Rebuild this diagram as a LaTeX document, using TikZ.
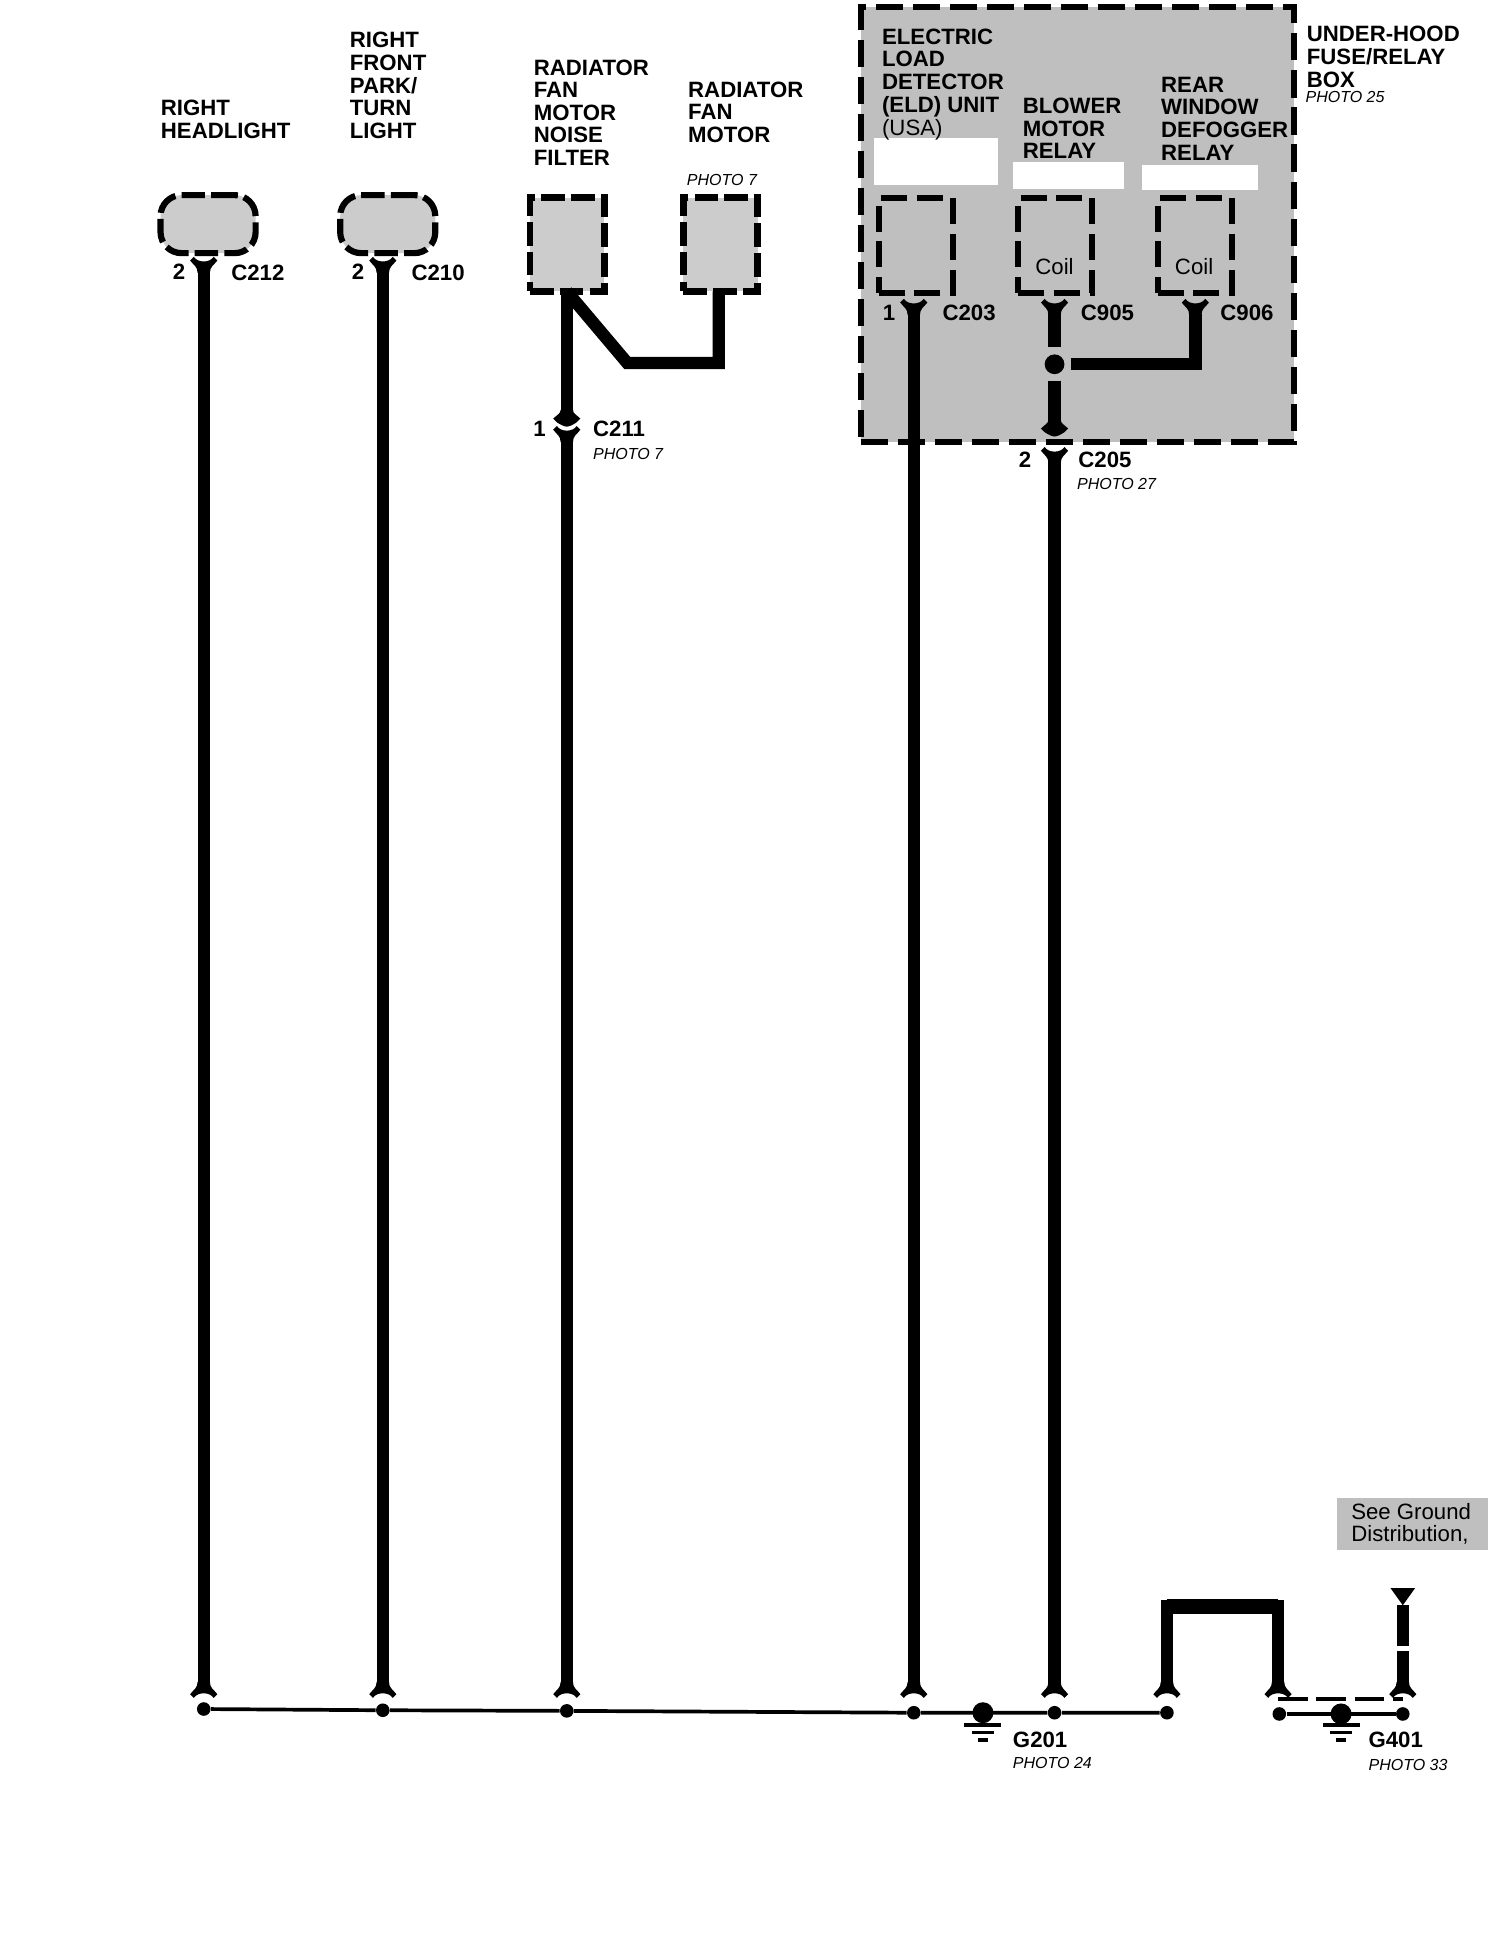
\documentclass[tikz,border=0pt]{standalone}
\usepackage{fontspec}
\setmainfont{Liberation Sans}
\newlength{\gridu}
\setlength{\gridu}{0.61741pt}

\begin{document}
\begin{tikzpicture}[
  x=\gridu, y=-\gridu,
  partname/.style={anchor=north west, inner sep=0pt, align=left, font=\fontsize{11.1}{11.3}\selectfont\bfseries},
  plaintext/.style={anchor=north west, inner sep=0pt, align=left, font=\fontsize{11.1}{11.3}\selectfont},
  phototext/.style={anchor=north west, inner sep=0pt, font=\fontsize{8}{9}\selectfont\itshape},
  pinno/.style={anchor=center, inner sep=0pt, font=\fontsize{11.1}{11.3}\selectfont\bfseries},
  housing/.style={draw, fill=black!20, line width=5\gridu, dash pattern=on 19\gridu off 5\gridu, inner sep=0pt},
  relaybox/.style={draw, line width=5\gridu, dash pattern=on 21\gridu off 8\gridu, inner sep=0pt, minimum width=60\gridu, minimum height=77\gridu},
  blanking/.style={fill=white, inner sep=0pt},
  wire/.style={line width=10\gridu},
  thinwire/.style={line width=3\gridu},
  splice/.style={circle, fill=black, inner sep=0pt, minimum size=#1\gridu},
  wirefork/.pic={
    \fill (-11,-1) -- (-8,-4) .. controls (-5,1) and (5,1) .. (8,-4) -- (11,-1)
      .. controls (8,3) and (5,4) .. (5,9) -- (-5,9) .. controls (-5,4) and (-8,3) .. (-11,-1) -- cycle;
  },
  wireforkdown/.pic={
    \fill[yscale=-1] (-11,-1) -- (-8,-4) .. controls (-5,1) and (5,1) .. (8,-4) -- (11,-1)
      .. controls (8,3) and (5,4) .. (5,9) -- (-5,9) .. controls (-5,4) and (-8,3) .. (-11,-1) -- cycle;
  },
  wirefoot/.pic={
    \fill (-5,-9) -- (5,-9) .. controls (5,-6) and (8,-5) .. (11,-2) -- (8,1)
      .. controls (5,3) and (2,4.5) .. (0,4.5) .. controls (-2,4.5) and (-5,3) .. (-8,1)
      -- (-11,-2) .. controls (-8,-5) and (-5,-6) .. (-5,-9) -- cycle;
  }]

\useasboundingbox (0,0) rectangle (1218,1566.2);

% Fuse box and the parts above the wires
\node[housing, fill=black!25, dash pattern=on 22\gridu off 8\gridu, minimum width=351\gridu, minimum height=352\gridu] (fusebox) at (872.5,182) {};
\node[blanking, minimum width=100\gridu, minimum height=38\gridu] (blankeld) at (758,131) {};
\node[blanking, minimum width=90\gridu, minimum height=22\gridu] (blankblower) at (865,142) {};
\node[blanking, minimum width=94\gridu, minimum height=20\gridu] (blankrear) at (972,144) {};

\node[housing, rounded corners=17\gridu, minimum width=77\gridu, minimum height=47\gridu] (headlight) at (168.5,181.5) {};
\node[housing, rounded corners=17\gridu, minimum width=77\gridu, minimum height=47\gridu] (parklight) at (314,181.5) {};
\node[housing, minimum width=60\gridu, minimum height=76\gridu] (noisefilter) at (459.5,198) {};
\node[housing, minimum width=60\gridu, minimum height=76\gridu] (fanmotor) at (583.5,198) {};

\node[relaybox] (eldunit) at (741.5,199) {};
\node[relaybox] (blowerrelay) at (854.5,199) {};
\node[relaybox] (rearrelay) at (967.5,199) {};
\node[plaintext, anchor=center] (coilblower) at (854,216) {Coil};
\node[plaintext, anchor=center] (coilrear) at (967,216) {Coil};

% Part names
\node[partname] (nameheadlight) at (130,81) {RIGHT\\HEADLIGHT};
\node[partname] (namepark) at (283,26) {RIGHT\\FRONT\\PARK/\\TURN\\LIGHT};
\node[partname] (namefilter) at (432,48) {RADIATOR\\FAN\\MOTOR\\NOISE\\FILTER};
\node[partname] (namefan) at (557,66) {RADIATOR\\FAN\\MOTOR};
\node[phototext] (photofan) at (556,141) {PHOTO 7};
\node[partname] (nameeld) at (714,23) {ELECTRIC\\LOAD\\DETECTOR\\(ELD) UNIT};
\node[plaintext] (nameusa) at (714,96) {(USA)};
\node[partname] (nameblower) at (828,79) {BLOWER\\MOTOR\\RELAY};
\node[partname] (namerear) at (940,62) {REAR\\WINDOW\\DEFOGGER\\RELAY};
\node[partname] (namebox) at (1058,21) {UNDER-HOOD\\FUSE/RELAY\\BOX};
\node[phototext] (photobox) at (1057,74) {PHOTO 25};

% Connector labels
\node[pinno] (pinheadlight) at (145,220) {2};
\node[partname] (cheadlight) at (187,214) {C212};
\node[pinno] (pinpark) at (290,220) {2};
\node[partname] (cpark) at (333,214) {C210};
\node[pinno] (pinfilter) at (437,347) {1};
\node[partname] (cfilter) at (480,341) {C211};
\node[phototext] (photofilter) at (480,363) {PHOTO 7};
\node[pinno] (pineld) at (720,253) {1};
\node[partname] (celd) at (763,247) {C203};
\node[partname] (cblower) at (875,247) {C905};
\node[partname] (crear) at (988,247) {C906};
\node[pinno] (pinbox) at (830,372) {2};
\node[partname] (cbox) at (873,366) {C205};
\node[phototext] (photobottom) at (872,387) {PHOTO 27};

% Wire ends
\coordinate (headtop) at (165,220);
\coordinate (headend) at (165,1364);
\coordinate (parktop) at (310,220);
\coordinate (parkend) at (310,1364);
\coordinate (filtertop) at (459,236);
\coordinate (filterc) at (459,333);
\coordinate (filterd) at (459,357);
\coordinate (filterend) at (459,1364);
\coordinate (fantop) at (582,236);
\coordinate (bendleft) at (508,294);
\coordinate (bendright) at (582,294);
\coordinate (eldtop) at (740,254);
\coordinate (eldend) at (740,1364);
\coordinate (blowertop) at (854,254);
\coordinate (reartop) at (968,254);
\coordinate (bendrear) at (968,295);
\coordinate (arrowend) at (854,341);
\coordinate (boxtop) at (854,374);
\coordinate (boxend) at (854,1364);
\coordinate (loopa) at (945,1364);
\coordinate (loopb) at (1035,1364);
\coordinate (loopc) at (945,1301);
\coordinate (loopd) at (1035,1301);
\coordinate (distend) at (1136,1364);
\coordinate (distgapa) at (1136,1337);
\coordinate (distgapb) at (1136,1333);
\coordinate (disttop) at (1136,1300);
\coordinate (dashstart) at (1035,1376);
\coordinate (dashend) at (1136,1376);

% Splices on the ground bus
\node[splice=11] (dotheadlight) at (165,1384) {};
\node[splice=11] (dotpark) at (310,1385) {};
\node[splice=11] (dotfilter) at (459,1385.5) {};
\node[splice=11] (doteld) at (740,1387) {};
\node[splice=11] (dotbox) at (854,1387) {};
\node[splice=11] (dotloopa) at (945,1387) {};
\node[splice=11] (dotloopb) at (1036,1388) {};
\node[splice=11] (dotdist) at (1136,1388) {};
\node[splice=17] (groundone) at (796,1387) {};
\node[splice=17] (groundtwo) at (1086,1388) {};
\node[splice=16] (dotblower) at (854,295) {};

% Wires
\draw[wire] (headtop) -- (headend);
\draw[wire] (parktop) -- (parkend);
\draw[wire] (filtertop) -- (filterc);
\draw[wire] (filterd) -- (filterend);
\draw[wire, miter limit=10] (filtertop) -- (bendleft) -- (bendright) -- (fantop);
\draw[wire] (eldtop) -- (eldend);
\draw[wire] (blowertop) -- ([yshift=6\gridu]dotblower.north);
\draw[wire] (reartop) -- (bendrear) -- ([xshift=5\gridu]dotblower.east);
\draw[wire] ([yshift=-5\gridu]dotblower.south) -- (arrowend);
\draw[wire] (boxtop) -- (boxend);
\draw[wire] (loopa) -- (loopc) -- (loopd) -- (loopb);
\draw[line width=12\gridu] (loopc) -- (loopd);
\draw[wire] (distend) -- (distgapa);
\draw[wire] (distgapb) -- (disttop);
\draw[thinwire, dash pattern=on 24\gridu off 7\gridu] (dashstart) -- (dashend);

% Connector forks
\pic at (165,212) {wirefork};
\pic at (310,212) {wirefork};
\pic at (740,246) {wirefork};
\pic at (854,246) {wirefork};
\pic at (968,246) {wirefork};
\pic at (854,366) {wirefork};
\pic at (459,349) {wirefork};
\pic at (459,341) {wirefoot};
\pic at (854,349) {wirefoot};
\pic at (165,1371) {wireforkdown};
\pic at (310,1371) {wireforkdown};
\pic at (459,1371) {wireforkdown};
\pic at (740,1371) {wireforkdown};
\pic at (854,1371) {wireforkdown};
\pic at (945,1371) {wireforkdown};
\pic at (1035,1371) {wireforkdown};
\pic at (1136,1371) {wireforkdown};

% Ground bus
\draw[thinwire] (dotheadlight) -- (dotpark) -- (dotfilter) -- (doteld) -- (dotbox) -- (dotloopa);
\draw[thinwire] (dotloopb) -- (dotdist);

% Ground symbols
\draw[thinwire] (781,1397) -- (811,1397);
\draw[thinwire] (787,1403) -- (805,1403);
\draw[thinwire] (792,1409) -- (800,1409);
\draw[thinwire] (1071,1397) -- (1101,1397);
\draw[thinwire] (1077,1403) -- (1095,1403);
\draw[thinwire] (1082,1409) -- (1090,1409);
\node[partname] (gone) at (820,1402) {G201};
\node[phototext] (photogone) at (820,1423) {PHOTO 24};
\node[partname] (gtwo) at (1108,1402) {G401};
\node[phototext] (photogtwo) at (1108,1424) {PHOTO 33};

% See ground note
\fill (1126,1286) -- (1146,1286) -- (disttop) -- cycle;
\node[fill=black!25, inner sep=0pt, minimum width=122\gridu, minimum height=42\gridu] (notebox) at (1144,1234.5) {};
\node[plaintext] (notetext) at (1094,1217) {See Ground\\Distribution,};

\end{tikzpicture}
\end{document}
